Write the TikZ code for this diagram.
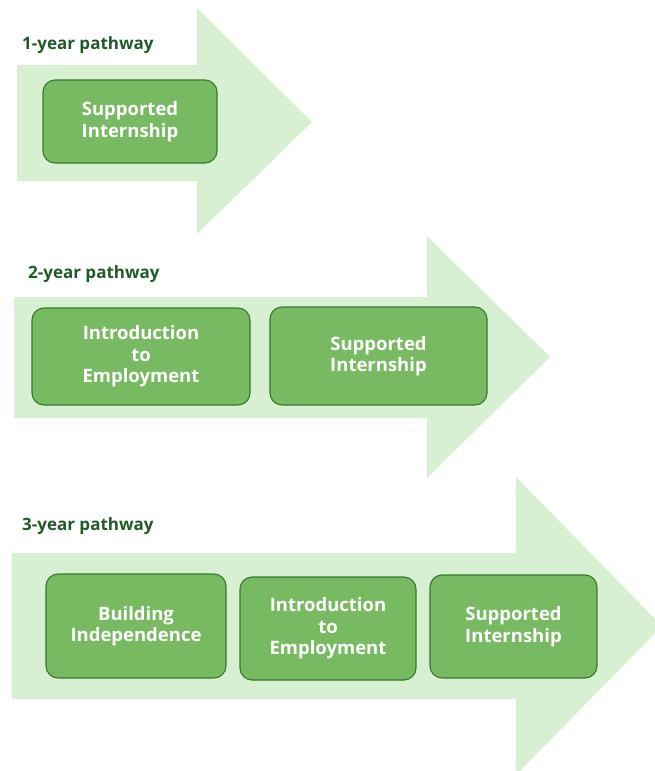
\documentclass[tikz,border=0pt]{standalone}
\usepackage{fontspec}
\setmainfont{Open Sans}
\definecolor{arrowgreen}{HTML}{D7F0D1}
\definecolor{boxgreen}{HTML}{78BA62}
\definecolor{edgegreen}{HTML}{3A772E}
\definecolor{titlegreen}{HTML}{1F5A27}
\tikzset{
  pathway/.style={fill=arrowgreen, draw=none},
  stage/.style={draw=edgegreen, fill=boxgreen, line width=1.1pt, rounded corners=12pt,
    text=white, align=center, inner sep=0pt,
    font=\fontsize{18.5}{21.5}\selectfont\bfseries},
  heading/.style={anchor=west, text=titlegreen, inner sep=0pt,
    font=\fontsize{17}{20}\selectfont\bfseries}
}
\begin{document}
\begin{tikzpicture}[x=1pt, y=-1pt]
  \useasboundingbox (0, 0) rectangle (655, 771);

  % --- 1-year pathway ---
  \fill[pathway] (17, 65) -- (197, 65) -- (197, 8) -- (312, 122) -- (197, 234) -- (197, 181) -- (17, 181) -- cycle;
  \node[heading] (title1) at (22, 45) {1-year pathway};
  \node[stage, minimum width=174pt, minimum height=83pt] (si1) at (130, 121.5) {Supported\\Internship};

  % --- 2-year pathway ---
  \fill[pathway] (14, 297) -- (427, 297) -- (427, 236) -- (550, 357) -- (427, 478) -- (427, 418) -- (14, 418) -- cycle;
  \node[heading] (title2) at (28, 274) {2-year pathway};
  \node[stage, minimum width=218pt, minimum height=97pt] (ie2) at (141, 356.5) {Introduction\\to\\Employment};
  \node[stage, minimum width=217pt, minimum height=98pt] (si2) at (378.5, 356) {Supported\\Internship};

  % --- 3-year pathway ---
  \fill[pathway] (12, 553) -- (516, 553) -- (516, 477) -- (662, 626) -- (516, 775) -- (516, 699) -- (12, 699) -- cycle;
  \node[heading] (title3) at (22, 526) {3-year pathway};
  \node[stage, minimum width=180pt, minimum height=104pt] (bi3) at (136, 626) {Building\\Independence};
  \node[stage, minimum width=176pt, minimum height=103pt] (ie3) at (328, 628.5) {Introduction\\to\\Employment};
  \node[stage, minimum width=167pt, minimum height=103pt] (si3) at (513.5, 626.5) {Supported\\Internship};
\end{tikzpicture}
\end{document}
